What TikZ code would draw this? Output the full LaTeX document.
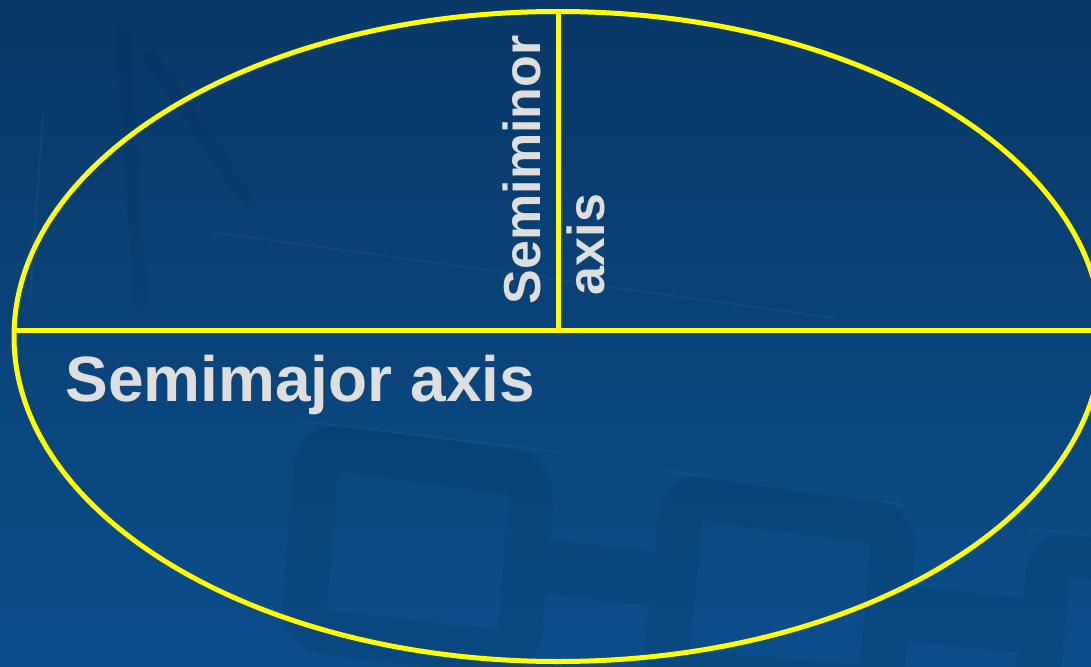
\documentclass[tikz,border=0pt]{standalone}
\usepackage{fontspec}
\setmainfont{Liberation Sans}
\begin{document}
\begin{tikzpicture}[x=1pt,y=1pt,
  axisline/.style={draw=orbityellow, line width=5pt},
  orbit/.style={draw=orbityellow, line width=5pt},
  lbl/.style={text=labelgray, inner sep=0pt, outer sep=0pt},
  bigfont/.style={font=\fontsize{64}{64}\selectfont\bfseries},
  smallfont/.style={font=\fontsize{52}{52}\selectfont\bfseries},
  tile/.style={draw=black, line width=45pt, rounded corners=24pt, line join=round},
  band/.style={draw=black, line width=55pt},
  glint/.style={draw=white, draw opacity=0.045, line width=1.5pt},
  shadowline/.style={draw=black, draw opacity=0.035, line width=14pt, line cap=round},
]
\definecolor{orbityellow}{RGB}{255,255,0}
\definecolor{labelgray}{RGB}{222,222,222}
\definecolor{bgtop}{RGB}{9,56,103}
\definecolor{bgbottom}{RGB}{11,78,140}

\useasboundingbox (0,0) rectangle (1091,-666);
\clip (0,0) rectangle (1091,-666);

% backdrop
\shade[top color=bgtop, bottom color=bgbottom] (0,0) rectangle (1091,-666);

% faint tiled pattern in the backdrop, drawn as one translucent group
\begin{scope}[transparency group, opacity=0.065]
\draw[tile] (318,-445) -- (533,-475) -- (518,-655) -- (303,-630) -- cycle;
\draw[band] (533,-565) -- (683,-582);
\draw[tile] (683,-495) -- (895,-525) -- (880,-690) -- (665,-670) -- cycle;
\draw[band] (895,-612) -- (1050,-628);
\draw[tile] (1050,-552) -- (1220,-575) -- (1205,-730) -- (1035,-705) -- cycle;
\end{scope}
\draw[glint] (300,-421) -- (560,-452);
\draw[glint] (668,-471) -- (905,-505);
\draw[glint] (1028,-528) -- (1091,-536);
\draw[glint] (212,-232) -- (835,-318);
\draw[glint] (43,-113) -- (30,-300);
\draw[shadowline] (123,-33) -- (140,-300);
\draw[shadowline] (150,-57) -- (247,-200);

% the ellipse and its two half-axes
\draw[orbit] (558,-336.5) ellipse [x radius=544, y radius=325];
\coordinate (ctr) at (558,-330);
\coordinate (west) at (14,-330);
\coordinate (east) at (1100,-330);
\coordinate (apex) at (558,-11.5);
\draw[axisline] (west) -- (east);
\draw[axisline] (apex) -- (ctr);

% labels
\node[lbl, bigfont, anchor=base west] (major) at (65.5,-401) {Semimajor axis};
\node[lbl, smallfont, rotate=90, anchor=base west] (minorA) at (540,-304) {Semiminor};
\node[lbl, smallfont, rotate=90, anchor=base west] (minorB) at (604,-295) {axis};
\end{tikzpicture}
\end{document}
